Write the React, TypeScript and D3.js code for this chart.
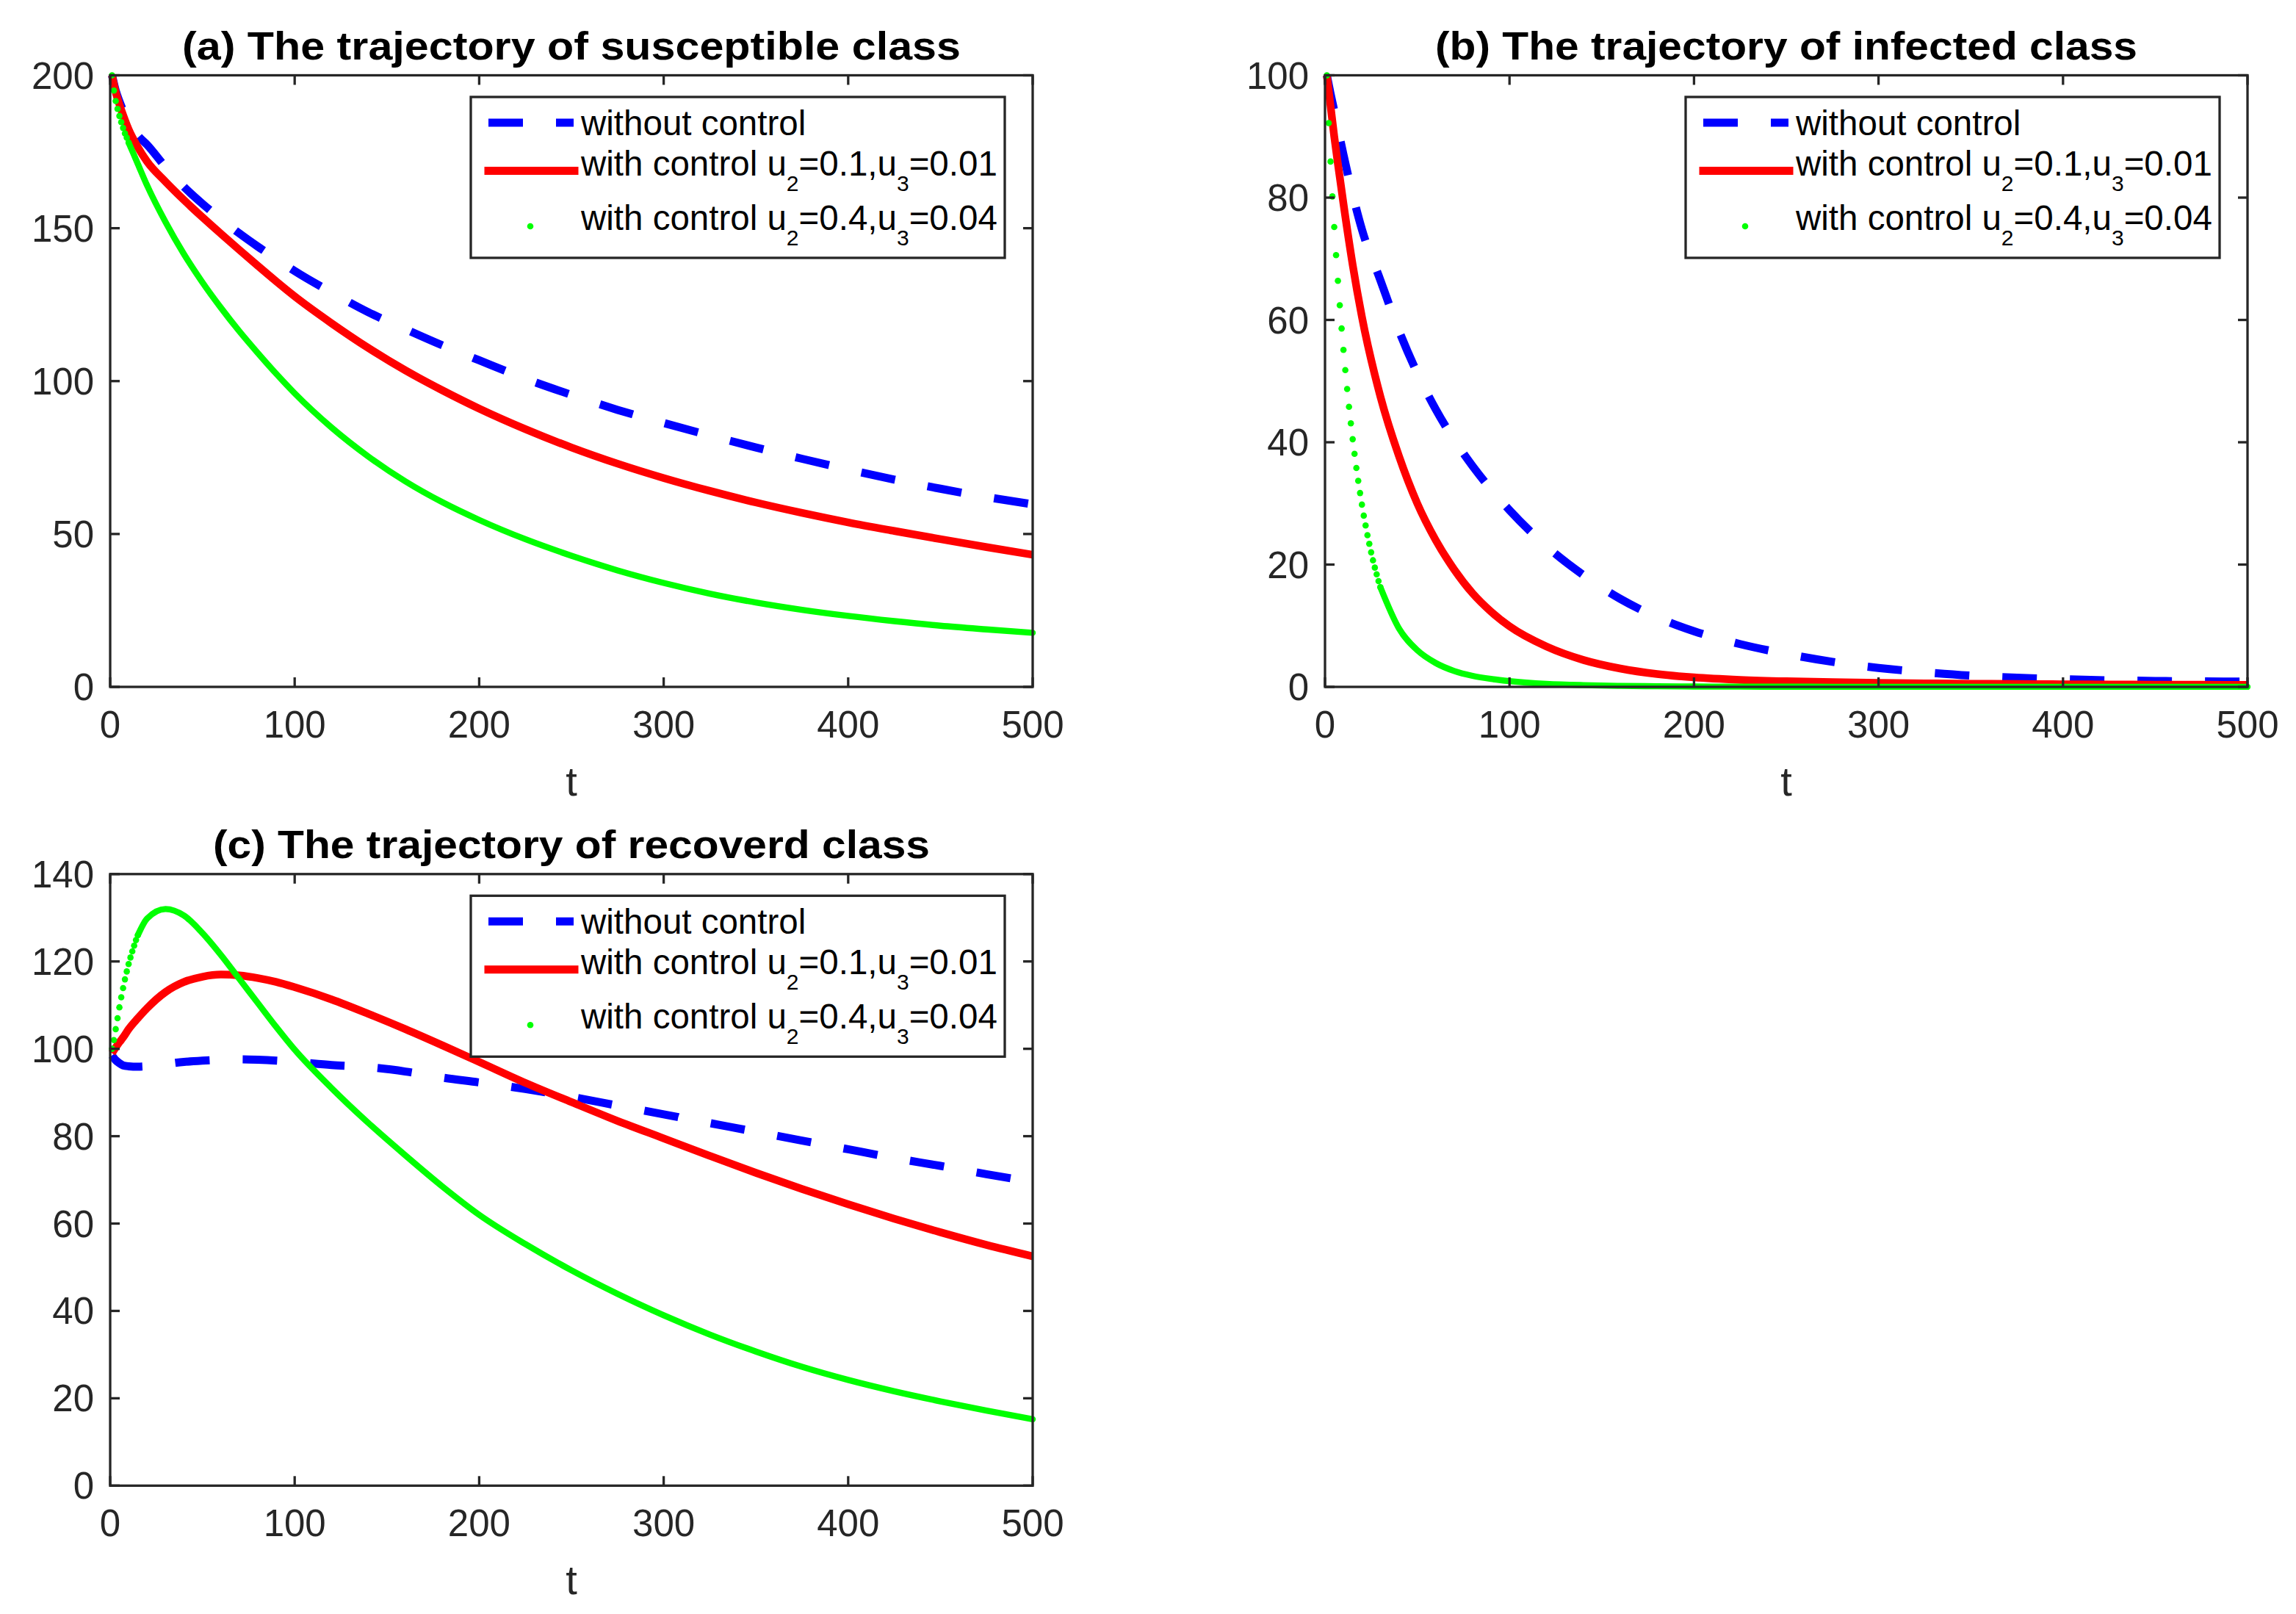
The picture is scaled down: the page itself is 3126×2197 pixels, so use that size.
import React from 'react';
import * as d3 from 'd3';

// ---------- data ----------
const tGrid = [1, 3, 5, 7, 10, 15, 20, 30, 40, 50, 60, 70, 80, 90, 100, 120, 140, 160, 180, 200, 225, 250, 275, 300, 325, 350, 375, 400, 425, 450, 475, 500];
const xTicks = [0, 100, 200, 300, 400, 500];

// (a) susceptible class
const susNoControl = [200, 195, 191.5, 188.5, 184.8, 180.3, 177.3, 170, 163.5, 158, 153, 148.3, 144, 140, 136, 129, 122.5, 117, 111.7, 106.8, 100.8, 95.5, 90.6, 86.3, 82.2, 78.3, 74.6, 71.1, 67.8, 64.8, 62.1, 59.7];
const susControlLow = [200, 194.5, 190.5, 187, 182.3, 176.5, 171.8, 165.2, 159.2, 153.6, 148.2, 142.9, 137.7, 132.6, 127.7, 118.9, 110.8, 103.5, 97, 91, 84.3, 78.3, 73, 68.3, 64.1, 60.3, 56.9, 53.8, 51, 48.3, 45.7, 43.2];
const susControlHigh = [200, 191.6, 186.7, 182.8, 178, 171, 164, 152, 141.5, 132.3, 124, 116.3, 109.2, 102.4, 96, 84.8, 75.3, 67.2, 60.4, 54.6, 48.3, 42.9, 38.1, 34, 30.5, 27.6, 25.2, 23.2, 21.5, 20, 18.8, 17.7];
const susControlHighEarly = [200, 195, 191.6, 189, 186.7, 184.7, 182.8, 181, 179.6, 178]; // t = 1..10
const susTicks = [0, 50, 100, 150, 200];

// (b) infected class
const infNoControl = [100, 97, 94.2, 91.3, 87, 80.5, 74.8, 66.5, 58.3, 51.3, 45.4, 40.4, 36.1, 32.3, 28.9, 23, 18.3, 14.4, 11.4, 9.1, 7, 5.4, 4.1, 3.1, 2.4, 1.85, 1.5, 1.25, 1.08, 0.97, 0.9, 0.85];
const infControlLow = [100, 95, 90, 85.5, 79, 69, 60.5, 47.5, 37.8, 30, 24, 19.2, 15.3, 12.3, 9.9, 6.6, 4.4, 3, 2.1, 1.55, 1.15, 0.92, 0.78, 0.67, 0.58, 0.52, 0.47, 0.43, 0.4, 0.37, 0.35, 0.33];
const infControlHigh = [100, 85.9, 75.2, 66.4, 55.1, 40.5, 29.8, 16.3, 9.6, 6, 3.9, 2.6, 1.8, 1.3, 0.95, 0.5, 0.28, 0.16, 0.1, 0.06, 0.04, 0.03, 0.02, 0.015, 0.01, 0.01, 0.01, 0.01, 0.01, 0.01, 0.01, 0.01];
const infControlHighEarly = [100, 92.2, 85.9, 80.2, 75.2, 70.6, 66.4, 62.4, 58.6, 55.1, 51.8, 48.7, 45.8, 43.1, 40.5, 38.1, 35.8, 33.7, 31.7, 29.8, 28, 26.4, 24.8, 23.4, 22, 20.7, 19.5, 18.4, 17.3, 16.3]; // t = 1..30
const infTicks = [0, 20, 40, 60, 80, 100];

// (c) recovered class
const recNoControl = [98.5, 97.4, 96.7, 96.2, 96, 95.9, 96, 96.5, 97, 97.3, 97.5, 97.6, 97.5, 97.3, 97, 96.3, 95.8, 94.8, 93.4, 92.3, 90.8, 89, 87, 85, 83, 81, 79, 77, 75, 73.2, 71.3, 69.5];
const recControlLow = [99, 100.3, 101.5, 102.6, 104.5, 107, 109.3, 113, 115.3, 116.5, 117, 116.8, 116.2, 115.3, 114.1, 111.3, 108, 104.5, 100.8, 97, 92.2, 87.8, 83.5, 79.5, 75.5, 71.6, 67.9, 64.4, 61.1, 58, 55.1, 52.5];
const recControlHigh = [100, 104.5, 109.5, 113.9, 119.4, 126, 129.8, 132, 130.5, 126.5, 121.5, 116, 110.5, 105, 99.8, 91, 83, 75.6, 68.5, 62, 55.3, 49.3, 43.9, 39, 34.6, 30.7, 27.2, 24.2, 21.6, 19.3, 17.2, 15.2];
const recControlHighEarly = [100, 102, 104.5, 107, 109.5, 111.8, 113.9, 115.9, 117.7, 119.4, 120.9, 122.3, 123.6, 124.9, 126]; // t = 1..15
const recTicks = [0, 20, 40, 60, 80, 100, 120, 140];

const titles = [
  '(a) The trajectory of susceptible class',
  '(b) The trajectory of infected class',
  '(c) The trajectory of recoverd class',
];
const legendLabels = ['without control', 'with control u', 'with control u'];
const legendParams = [null, ['2', '=0.1,u', '3', '=0.01'], ['2', '=0.4,u', '3', '=0.04']];

// ---------- styles ----------
const FONT = '"Liberation Sans", Arial, Helvetica, sans-serif';
const AX = '#262626';
const BLUE = '#0000ff';
const RED = '#ff0000';
const GREEN = '#00ff00';
const W = 1256;
const H = 832.5;

const panels = [
  { title: titles[0], titleLen: 1060, left: 150, top: 102.5, yMax: 200, ticks: susTicks, blue: susNoControl, red: susControlLow, green: susControlHigh, early: susControlHighEarly },
  { title: titles[1], titleLen: 956, left: 1804, top: 102.5, yMax: 100, ticks: infTicks, blue: infNoControl, red: infControlLow, green: infControlHigh, early: infControlHighEarly },
  { title: titles[2], titleLen: 976, left: 150, top: 1189.8, yMax: 140, ticks: recTicks, blue: recNoControl, red: recControlLow, green: recControlHigh, early: recControlHighEarly },
];

function Legend({ x, y }: { x: number; y: number }) {
  const fs = 47.5;
  const sub = 30;
  const dy = 21;
  return (
    <g>
      <rect x={x} y={y} width={727} height={219} fill="#fff" stroke={AX} strokeWidth={3.3} />
      <line x1={x + 24} x2={x + 140} y1={y + 35} y2={y + 35} stroke={BLUE} strokeWidth={11} strokeDasharray="47 45" />
      <line x1={x + 24} x2={x + 141} y1={y + 100.5} y2={y + 100.5} stroke={RED} strokeWidth={11} strokeLinecap="square" />
      <circle cx={x + 81} cy={y + 176} r={4.3} fill={GREEN} />
      <text x={x + 150} y={y + 52} fontSize={fs} fontFamily={FONT} fill="#000">{legendLabels[0]}</text>
      {[1, 2].map((i) => {
        const p = legendParams[i] as string[];
        const by = i === 1 ? y + 107 : y + 181;
        return (
          <text key={i} x={x + 150} y={by} fontSize={fs} fontFamily={FONT} fill="#000">
            {legendLabels[i]}
            <tspan dy={dy} fontSize={sub}>{p[0]}</tspan>
            <tspan dy={-dy}>{p[1]}</tspan>
            <tspan dy={dy} fontSize={sub}>{p[2]}</tspan>
            <tspan dy={-dy}>{p[3]}</tspan>
          </text>
        );
      })}
    </g>
  );
}

function Panel({ cfg, lineStart }: { cfg: any; lineStart: number }) {
  const x = d3.scaleLinear().domain([0, 500]).range([cfg.left, cfg.left + W]);
  const y = d3.scaleLinear().domain([0, cfg.yMax]).range([cfg.top + H, cfg.top]);
  const line = d3
    .line<[number, number]>()
    .x((d) => x(d[0]))
    .y((d) => y(d[1]))
    .curve(d3.curveMonotoneX);
  const pts = (vals: number[]) => tGrid.map((t, i) => [t, vals[i]] as [number, number]);
  const greenPts = pts(cfg.green).filter((d) => d[0] >= lineStart);
  const bottom = cfg.top + H;
  const right = cfg.left + W;
  const tl = 13;
  const cx = cfg.left + W / 2;
  return (
    <g>
      <text x={cx} y={cfg.top - 21.5} textAnchor="middle" fontSize={54} fontWeight="bold" fontFamily={FONT} fill="#000" textLength={cfg.titleLen} lengthAdjust="spacingAndGlyphs">
        {cfg.title}
      </text>
      <path d={line(pts(cfg.blue)) || ''} fill="none" stroke={BLUE} strokeWidth={11} strokeDasharray="47 45" />
      <path d={line(pts(cfg.red)) || ''} fill="none" stroke={RED} strokeWidth={10.5} strokeLinejoin="round" />
      <path d={line(greenPts) || ''} fill="none" stroke={GREEN} strokeWidth={8.4} strokeLinecap="round" strokeLinejoin="round" />
      {cfg.early.map((v: number, i: number) => (
        <circle key={i} cx={x(i + 1)} cy={y(v)} r={4.3} fill={GREEN} />
      ))}
      {/* axes box */}
      <rect x={cfg.left} y={cfg.top} width={W} height={H} fill="none" stroke={AX} strokeWidth={3.3} />
      {xTicks.map((t) => (
        <g key={'x' + t}>
          <line x1={x(t)} x2={x(t)} y1={bottom} y2={bottom - tl} stroke={AX} strokeWidth={3.3} />
          <line x1={x(t)} x2={x(t)} y1={cfg.top} y2={cfg.top + tl} stroke={AX} strokeWidth={3.3} />
          <text x={x(t)} y={bottom + 69} textAnchor="middle" fontSize={51} fontFamily={FONT} fill={AX}>{t}</text>
        </g>
      ))}
      {cfg.ticks.map((v: number) => (
        <g key={'y' + v}>
          <line x1={cfg.left} x2={cfg.left + tl} y1={y(v)} y2={y(v)} stroke={AX} strokeWidth={3.3} />
          <line x1={right} x2={right - tl} y1={y(v)} y2={y(v)} stroke={AX} strokeWidth={3.3} />
          <text x={cfg.left - 22} y={y(v) + 18} textAnchor="end" fontSize={51} fontFamily={FONT} fill={AX}>{v}</text>
        </g>
      ))}
      <text x={cx} y={bottom + 148} textAnchor="middle" fontSize={56} fontFamily={FONT} fill={AX}>t</text>
      <Legend x={right - 38 - 727} y={cfg.top + 29.5} />
    </g>
  );
}

export default function App() {
  const starts = [10, 30, 15];
  return (
    <svg width={3126} height={2197} viewBox="0 0 3126 2197" style={{ position: 'absolute', left: 0, top: 0, background: '#fff' }}>
      <rect x={0} y={0} width={3126} height={2197} fill="#fff" />
      {panels.map((p, i) => (
        <Panel key={i} cfg={p} lineStart={starts[i]} />
      ))}
    </svg>
  );
}
